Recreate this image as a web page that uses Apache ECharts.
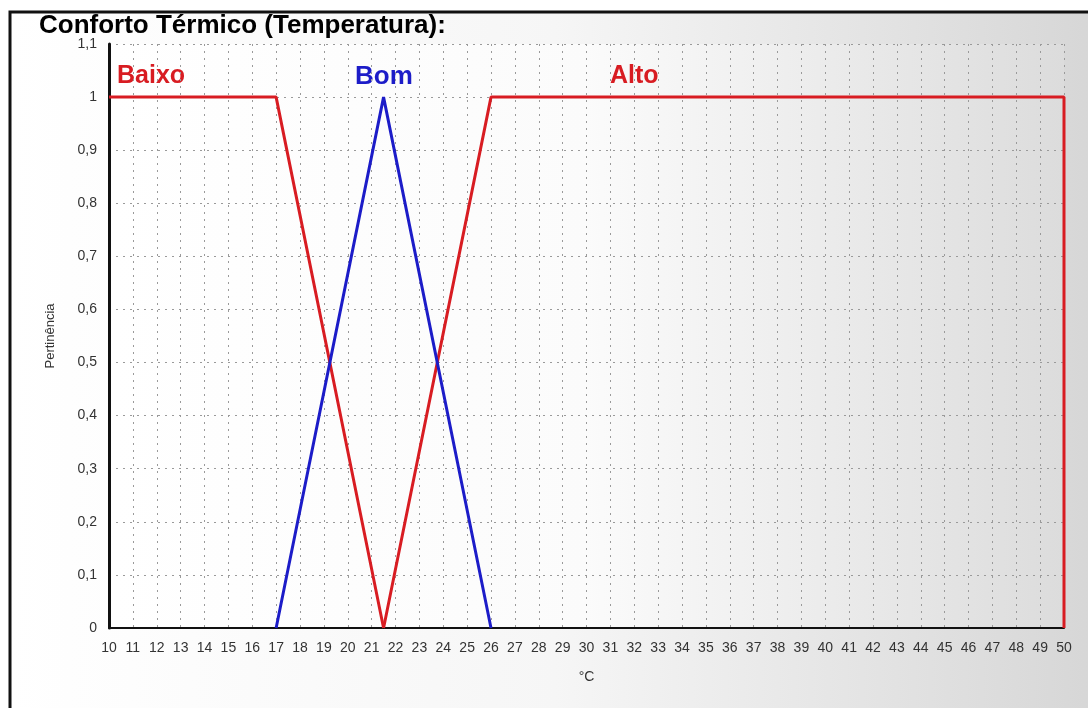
<!DOCTYPE html>
<html>
<head>
<meta charset="utf-8">
<script src="https://cdn.jsdelivr.net/npm/echarts@6/dist/echarts.min.js"></script>
<style>
html,body{margin:0;padding:0;background:#fff;}
#c{width:1088px;height:708px;}
</style>
</head>
<body>
<div id="c"></div>
<script>
// ---- data ----
const titleText = 'Conforto Térmico (Temperatura):';
const seriesNames = ['Baixo', 'Bom', 'Alto'];
const baixoX = [10, 17, 21.5];
const baixoY = [1, 1, 0];
const bomX = [17, 21.5, 26];
const bomY = [0, 1, 0];
const altoX = [21.5, 26, 50, 50];
const altoY = [0, 1, 1, 0];
const xMin = 10, xMax = 50, xStep = 1;
const yMin = 0, yMax = 1.1, yStep = 0.1;
const xName = '°C';
const yName = 'Pertinência';

const red = '#d81c22';
const blue = '#1c1cc8';

function pairs(xs, ys) { return xs.map((x, i) => [x, ys[i]]); }

const chart = echarts.init(document.getElementById('c'));
const font = 'Liberation Sans, Arial, sans-serif';

chart.setOption({
  animation: false,
  backgroundColor: '#fff',
  graphic: [
    {
      type: 'rect', z: -10, silent: true,
      shape: { x: 10, y: 12, width: 1090, height: 710 },
      style: {
        fill: new echarts.graphic.LinearGradient(0, 0, 1, 0, [
          { offset: 0, color: '#ffffff' },
          { offset: 0.5, color: '#f6f6f6' },
          { offset: 1, color: '#d6d6d6' }
        ]),
        stroke: '#111', lineWidth: 3
      }
    },
    {
      type: 'rect', z: -9, silent: true,
      shape: { x: 109, y: 44, width: 955, height: 584 },
      style: {
        fill: new echarts.graphic.LinearGradient(0, 0, 1, 0, [
          { offset: 0, color: '#ffffff' },
          { offset: 0.5, color: '#fbfbfb' },
          { offset: 1, color: '#dcdcdc' }
        ])
      }
    },
    { type: 'text', left: 117, top: 64, style: { text: seriesNames[0], fill: red, font: 'bold 25px ' + font } },
    { type: 'text', left: 355, top: 64, style: { text: seriesNames[1], fill: blue, font: 'bold 26px ' + font } },
    { type: 'text', left: 610, top: 64, style: { text: seriesNames[2], fill: red, font: 'bold 25px ' + font } }
  ],
  title: {
    text: titleText, left: 34, top: 8,
    textStyle: { fontFamily: font, fontSize: 26, fontWeight: 'bold', color: '#000' }
  },
  grid: { left: 109, right: 24, top: 44, bottom: 80, containLabel: false },
  xAxis: {
    type: 'value', min: xMin, max: xMax, interval: xStep,
    name: xName, nameLocation: 'middle', nameGap: 42,
    nameTextStyle: { fontFamily: font, fontSize: 14, color: '#333' },
    axisLine: { show: true, onZero: false, lineStyle: { color: '#111', width: 2 } },
    axisTick: { show: false },
    axisLabel: { fontFamily: font, fontSize: 14, color: '#333', margin: 13 },
    splitLine: { show: true, lineStyle: { color: '#9a9a9a', type: [2, 5], width: 1 } }
  },
  yAxis: {
    type: 'value', min: yMin, max: yMax, interval: yStep,
    name: yName, nameLocation: 'middle', nameGap: 52, nameRotate: 90,
    nameTextStyle: { fontFamily: font, fontSize: 13, color: '#333' },
    axisLine: { show: true, onZero: false, lineStyle: { color: '#111', width: 3 } },
    axisTick: { show: false },
    axisLabel: {
      fontFamily: font, fontSize: 14, color: '#333', margin: 12,
      formatter: v => String(+v.toFixed(1)).replace('.', ',')
    },
    splitLine: { show: true, lineStyle: { color: '#9a9a9a', type: [2, 5], width: 1 } }
  },
  series: [
    { name: seriesNames[0], type: 'line', data: pairs(baixoX, baixoY), symbol: 'none',
      lineStyle: { color: red, width: 3 }, z: 3 },
    { name: seriesNames[1], type: 'line', data: pairs(bomX, bomY), symbol: 'none',
      lineStyle: { color: blue, width: 3 }, z: 4 },
    { name: seriesNames[2], type: 'line', data: pairs(altoX, altoY), symbol: 'none',
      lineStyle: { color: red, width: 3 }, z: 3 }
  ]
});
</script>
</body>
</html>
